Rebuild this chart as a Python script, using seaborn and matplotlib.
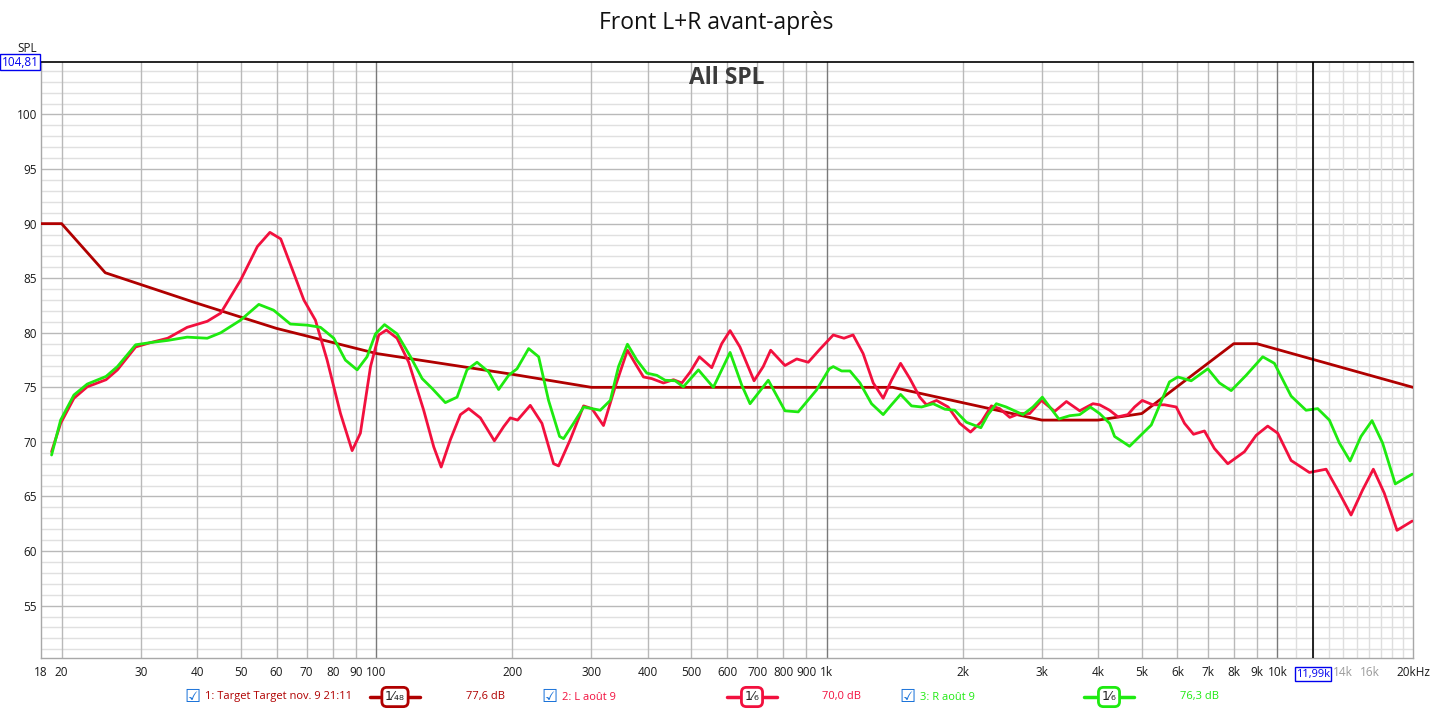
import matplotlib

matplotlib.use("Agg")
import matplotlib.pyplot as plt
import seaborn as sns
from matplotlib.lines import Line2D

sns.set_theme(style="white")
plt.rcParams["font.family"] = ["Open Sans", "DejaVu Sans"]

# --- data ---
target_freq = [18, 20, 25, 40, 60, 100, 200, 300, 1400, 3000, 4000, 5000, 8000, 9000, 20000]
target_spl = [90, 90, 85.5, 82.7, 80.4, 78.1, 76.2, 75.0, 75.0, 72.0, 72.0, 72.6, 79.0, 79.0, 75.0]

left_freq = [19.0, 19.9, 21.3, 22.8, 25.1, 26.6, 29.2, 31.5, 34.4, 38.0, 42.1, 45.1, 49.9, 54.4, 58.0,
             61.3, 65.6, 69.0, 73.2, 77.7, 83.2, 88.3, 92.1, 97.0, 101.2, 105.2, 111.1, 117.9, 127.3,
             134.0, 139.2, 145.9, 153.6, 160.2, 170.1, 182.7, 191.6, 198.2, 205.7, 219.5, 233.0, 247.3,
             253.7, 269.2, 288.2, 300.8, 319.1, 338.8, 360.7, 375.2, 391.5, 408.5, 433.5, 456.4, 476.4,
             497, 521, 555, 584, 609.5, 641, 689, 722, 750, 807, 857, 909, 965, 1033, 1091, 1143, 1203,
             1267, 1333, 1391, 1457, 1528, 1607, 1663, 1751, 1858, 1972, 2083, 2203, 2318, 2418, 2546,
             2679, 2819, 2994, 3203, 3401, 3640, 3895, 4030, 4170, 4242, 4425, 4655, 4819, 5012, 5290,
             5616, 5963, 6220, 6513, 6887, 7246, 7760, 8450, 8970, 9517, 10016, 10725, 11776, 12826,
             13610, 14572, 15460, 16330, 17270, 18430, 19924]
left_spl = [69.1, 71.7, 74.0, 75.05, 75.7, 76.6, 78.7, 79.1, 79.5, 80.5, 81.05, 81.8, 84.8, 87.9, 89.2,
            88.6, 85.4, 83.0, 81.15, 77.5, 72.6, 69.2, 70.8, 76.9, 79.8, 80.25, 79.5, 77.3, 72.9,
            69.55, 67.7, 70.2, 72.5, 73.05, 72.2, 70.1, 71.4, 72.2, 72.0, 73.35, 71.7, 68.0,
            67.8, 70.2, 73.3, 73.05, 71.5, 75.05, 78.4, 77.2, 75.95, 75.8, 75.4, 75.7, 75.4,
            76.4, 77.8, 76.8, 79.0, 80.2, 78.7, 75.6, 76.9, 78.4, 77.0, 77.6, 77.3, 78.5, 79.8, 79.5, 79.8, 78.1,
            75.4, 74.0, 75.65, 77.2, 75.8, 74.1, 73.4, 73.8, 73.2, 71.7, 70.9, 71.85, 73.3, 73.05, 72.25,
            72.6, 72.6, 73.8, 72.8, 73.7, 72.85, 73.5, 73.4, 73.07, 72.9, 72.3, 72.5, 73.2, 73.8, 73.4,
            73.4, 73.2, 71.7, 70.7, 71.0, 69.4, 68.0, 69.1, 70.6, 71.45, 70.8, 68.3, 67.2, 67.5,
            65.6, 63.3, 65.6, 67.5, 65.3, 61.9, 62.75]

right_freq = [19.0, 19.9, 21.3, 22.8, 25.1, 26.6, 29.2, 31.5, 34.4, 38.0, 42.1, 45.1, 49.9, 54.8, 59.1,
              64.4, 70.2, 75.1, 80.4, 85.3, 90.6, 95.3, 99.5, 104.2, 111.1, 119.0, 126.3, 132.9, 142.2,
              151.0, 158.8, 167.2, 177.5, 186.7, 196.5, 205.1, 217.7, 229.1, 241.0, 255, 260.2, 273.8,
              288.4, 313.9, 330.4, 344.6, 360.7, 378.4, 398.3, 419.2, 437.3, 460.3, 480, 518.4, 559.6,
              609.5, 647, 675, 741, 807, 863.5, 948, 1012, 1033, 1078, 1125, 1184, 1256, 1333, 1391,
              1457, 1541, 1622, 1721, 1827, 1922, 2040, 2196, 2278, 2377, 2500, 2723, 2867, 3007, 3273,
              3459, 3640, 3843, 4030, 4242, 4351, 4696, 5028, 5248, 5521, 5760, 6010, 6436, 7007, 7436,
              7896, 8522, 9278, 9847, 10725, 11577, 12288, 13043, 13728, 14500, 15330, 16220, 17120,
              18265, 19924]
right_spl = [68.8, 72.0, 74.3, 75.3, 76.0, 76.9, 78.9, 79.1, 79.3, 79.6, 79.5, 80.0, 81.15, 82.6, 82.07,
             80.8, 80.7, 80.5, 79.5, 77.5, 76.6, 77.8, 79.9, 80.75, 79.9, 77.8, 75.8, 74.9, 73.6,
             74.1, 76.6, 77.3, 76.4, 74.8, 76.1, 76.7, 78.55, 77.8, 73.8, 70.5, 70.3, 71.7,
             73.2, 72.9, 73.8, 76.9, 78.95, 77.5, 76.3, 76.1, 75.65, 75.6, 75.05, 76.6, 75.0,
             78.2, 75.2, 73.5, 75.65, 72.85, 72.75, 74.75, 76.7, 76.9, 76.5, 76.5, 75.4, 73.5, 72.5, 73.4,
             74.35, 73.3, 73.2, 73.5, 73.0, 72.9, 71.8, 71.3, 72.5, 73.5, 73.2, 72.5, 73.2, 74.1, 72.1,
             72.4, 72.5, 73.2, 72.6, 71.7, 70.5, 69.6, 70.8, 71.55, 73.7, 75.5, 75.95, 75.6, 76.7, 75.4,
             74.7, 76.1, 77.8, 77.2, 74.2, 72.9, 73.05, 72.0, 69.9, 68.25, 70.5, 71.95, 69.9,
             66.15, 67.05]

xtick_vals = [18, 20, 30, 40, 50, 60, 70, 80, 90, 100, 200, 300, 400, 500, 600, 700, 800, 900,
              1000, 2000, 3000, 4000, 5000, 6000, 7000, 8000, 9000, 10000, 14000, 16000, 20000]
xtick_labels = ["18", "20", "30", "40", "50", "60", "70", "80", "90", "100", "200", "300", "400",
                "500", "600", "700", "800", "900", "1k", "2k", "3k", "4k", "5k", "6k", "7k", "8k",
                "9k", "10k", "14k", "16k", "20kHz"]
ytick_vals = [55, 60, 65, 70, 75, 80, 85, 90, 95, 100]

cursor_freq = 11990
cursor_spl = 104.81

C_TARGET = "#b00000"
C_LEFT = "#f2103e"
C_RIGHT = "#1eea10"
W, H = 1433, 709

fig = plt.figure(figsize=(W / 100, H / 100), dpi=100)
ax = fig.add_axes([41 / W, 1 - 658 / H, 1372 / W, 596 / H])
ax.set_xscale("log")
ax.set_xlim(18, 20000)
ax.set_ylim(50.2, cursor_spl)

# grid: 1 dB minor, 5 dB major; decade lines darker, fine lines above 10k lighter
for v in range(51, 105):
    ax.axhline(v, color="#b9b9b9" if v % 5 == 0 else "#e0e0e0", lw=1, zorder=0.5)
for f in [20, 30, 40, 50, 60, 70, 80, 90, 200, 300, 400, 500, 600, 700, 800, 900,
          2000, 3000, 4000, 5000, 6000, 7000, 8000, 9000]:
    ax.axvline(f, color="#b9b9b9", lw=1, zorder=0.6)
for f in range(11000, 20000, 1000):
    ax.axvline(f, color="#dedede", lw=1, zorder=0.6)
for f in [100, 1000, 10000]:
    ax.axvline(f, color="#7a7a7a", lw=1, zorder=0.7)

line_kw = dict(lw=2, sort=False, estimator=None, solid_joinstyle="round", solid_capstyle="round")
sns.lineplot(x=target_freq, y=target_spl, ax=ax, color=C_TARGET, zorder=3, **line_kw)
sns.lineplot(x=left_freq, y=left_spl, ax=ax, color=C_LEFT, zorder=4, **line_kw)
sns.lineplot(x=right_freq, y=right_spl, ax=ax, color=C_RIGHT, zorder=5, **line_kw)

# cursor cross-hair
ax.axvline(cursor_freq, color="black", lw=1.2, zorder=6)

ax.set_xticks(xtick_vals)
ax.set_xticklabels(xtick_labels)
ax.set_xticks([], minor=True)
ax.set_yticks(ytick_vals)
ax.set_yticklabels([str(v) for v in ytick_vals])
ax.tick_params(axis="both", length=0, labelsize=8.5, colors="#1a1a1a")
ax.tick_params(axis="x", pad=6)
ax.tick_params(axis="y", pad=3)
for lbl in ax.get_xticklabels():
    if lbl.get_text() in ("14k", "16k"):
        lbl.set_color("#9a9a9a")
ax.set_xlabel("")
ax.set_ylabel("")
for side in ("left", "bottom", "right"):
    ax.spines[side].set_color("#a8a8a8")
    ax.spines[side].set_linewidth(1)
ax.spines["top"].set_color("black")
ax.spines["top"].set_linewidth(1.2)

# cursor readouts
box_blue = dict(boxstyle="square,pad=0.12", fc="white", ec="#0000ee", lw=1)
ax.text(cursor_freq, -0.018, "11,99k", transform=ax.get_xaxis_transform(), ha="center", va="top",
        fontsize=8, color="#0000ee", bbox=box_blue, zorder=10)
fig.text(20 / W, 1 - 62 / H, "104,81", ha="center", va="center", fontsize=8.5,
         color="#0000ee", bbox=box_blue)
fig.text(27 / W, 1 - 49 / H, "SPL", ha="center", va="center", fontsize=8.5, color="#1a1a1a")

fig.text(716 / W, 1 - 23 / H, "Front L+R avant-après", ha="center", va="center",
         fontsize=16.5, color="#111111")
ax.text(0.5, 0.994, "All SPL", transform=ax.transAxes, ha="center", va="top",
        fontsize=16.5, fontweight="bold", color="#3a3a3a")

# legend strip along the bottom
legend_rows = [
    (192, "1: Target Target nov. 9 21:11", C_TARGET, 395, "1⁄₄₈", 486, "77,6 dB"),
    (549, "2: L août 9", C_LEFT, 752, "1⁄₆", 842, "70,0 dB"),
    (907, "3: R août 9", C_RIGHT, 1109, "1⁄₆", 1200, "76,3 dB"),
]
ly = 1 - 697 / H
for cx, name, col, sx, smooth, vx, level in legend_rows:
    fig.text(cx / W, ly, "☑", ha="center", va="center", fontsize=13, color="#1670d8",
             family=["DejaVu Sans"])
    fig.text((cx + 13) / W, ly, name, ha="left", va="center", fontsize=8, color=col)
    fig.add_artist(Line2D([(sx - 25) / W, (sx + 25) / W], [ly, ly], color=col, lw=2.5))
    fig.text(sx / W, ly, smooth, ha="center", va="center", fontsize=9, color="#222222",
             family=["DejaVu Sans"],
             bbox=dict(boxstyle="round,pad=0.25,rounding_size=0.4", fc="white", ec=col, lw=2))
    fig.text(vx / W, ly, level, ha="center", va="center", fontsize=8, color=col)

fig.savefig("out.png", dpi=100)
